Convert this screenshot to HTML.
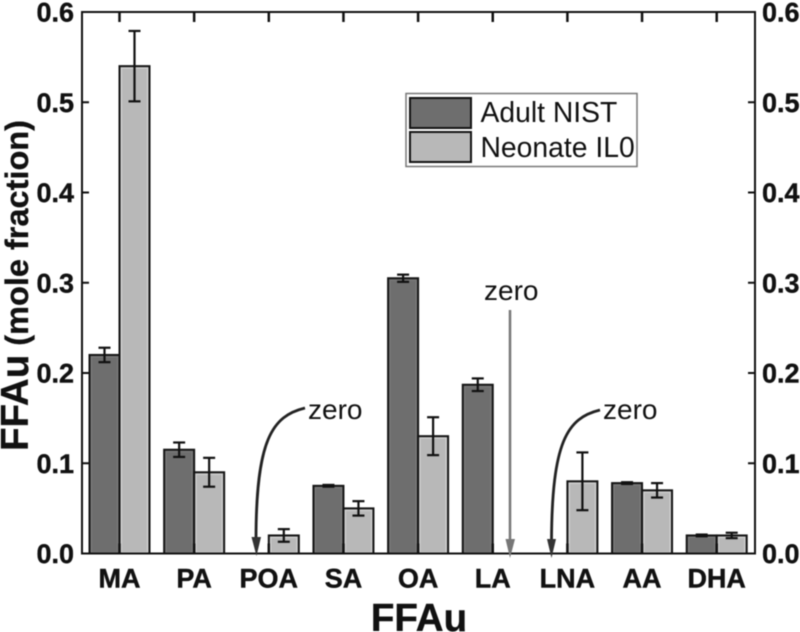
<!DOCTYPE html>
<html lang="en">
<head>
<meta charset="utf-8">
<title>FFAu mole fraction</title>
<style>
html,body{margin:0;padding:0;background:#fff;width:800px;height:632px;overflow:hidden}
svg{display:block;font-family:"Liberation Sans",sans-serif;filter:blur(0.45px)}
</style>
</head>
<body>
<svg id="chart" width="800" height="632" viewBox="0 0 800 632"></svg>
<script>
const categories = ['MA','PA','POA','SA','OA','LA','LNA','AA','DHA'];
const adultValues = [0.22,0.115,0,0.075,0.305,0.187,0,0.078,0.02];
const adultErrors = [0.008,0.008,0,0.001,0.004,0.007,0,0.001,0.001];
const neonateValues = [0.54,0.09,0.02,0.05,0.13,0,0.08,0.07,0.02];
const neonateErrors = [0.039,0.016,0.007,0.008,0.021,0,0.032,0.008,0.003];
const yTicks = [0,0.1,0.2,0.3,0.4,0.5,0.6];

const svg = document.getElementById('chart');
const NS = 'http://www.w3.org/2000/svg';
const plotLeft = 82, plotRight = 755, plotTop = 12, plotBottom = 553.5;
const yMax = 0.6, firstCenter = 119.5, step = 74.65, barWidth = 30;
function yScale(v){ return plotBottom - (v / yMax) * (plotBottom - plotTop); }
function xScale(i){ return firstCenter + i * step; }
function make(tag, attrs, parent){
  const el = document.createElementNS(NS, tag);
  for (const k in attrs) el.setAttribute(k, attrs[k]);
  (parent || svg).appendChild(el);
  return el;
}
function drawBar(value, x, fill, inner, group){
  if (value <= 0) return;
  const y = yScale(value);
  const r = make('rect', {x:x, y:y, width:barWidth, height:plotBottom-y, fill:fill, stroke:'#141414', 'stroke-width':2}, group);
  
  
  const h = make('rect', {x:x+2, y:y+2, width:barWidth-4, height:Math.max(0,plotBottom-y-3), fill:'none', stroke:inner, 'stroke-width':1}, group);
  
  
}
function drawError(value, err, cx, group){
  if (value <= 0 || err <= 0) return;
  const g = make('g', {stroke:'#111', 'stroke-width':2.2, fill:'none'}, group);
  
  
  const hi = yScale(value + err), lo = yScale(value - err);
  make('line', {x1:cx, x2:cx, y1:hi, y2:lo}, g);
  make('line', {x1:cx-6, x2:cx+6, y1:hi, y2:hi}, g);
  make('line', {x1:cx-6, x2:cx+6, y1:lo, y2:lo}, g);
}

categories.forEach(function(name, i){
  const group = make('g', {});
  
  
  const c = xScale(i);
  drawBar(adultValues[i], c - barWidth, '#6e6e6e', '#7c7c7c', group);
  drawBar(neonateValues[i], c, '#b8b8b8', '#d4d4d4', group);
  drawError(adultValues[i], adultErrors[i], c - barWidth/2, group);
  drawError(neonateValues[i], neonateErrors[i], c + barWidth/2, group);
});

const frame = make('rect', {x:plotLeft, y:plotTop, width:plotRight-plotLeft, height:plotBottom-plotTop, fill:'none', stroke:'#111', 'stroke-width':2});



yTicks.forEach(function(t){
  const y = yScale(t);
  if (t > 0 && t < yMax) {
    const a = make('line', {x1:plotLeft, x2:plotLeft+7, y1:y, y2:y, stroke:'#111', 'stroke-width':2});
    
    
    const b = make('line', {x1:plotRight-7, x2:plotRight, y1:y, y2:y, stroke:'#111', 'stroke-width':2});
    
    
  }
  const l = make('text', {x:74, y:y+9.5, 'text-anchor':'end', 'font-size':27, 'font-weight':'bold', fill:'#111', stroke:'#111', 'stroke-width':0.4});
  l.textContent = t.toFixed(1);
  
  
  const r = make('text', {x:762, y:y+9.5, 'font-size':27, 'font-weight':'bold', fill:'#111', stroke:'#111', 'stroke-width':0.4});
  r.textContent = t.toFixed(1);
  
  
});

categories.forEach(function(name, i){
  const c = xScale(i);
  const a = make('line', {x1:c, x2:c, y1:plotBottom-10, y2:plotBottom, stroke:'#111', 'stroke-width':2.5});
  
  
  const b = make('line', {x1:c, x2:c, y1:plotTop, y2:plotTop+10, stroke:'#111', 'stroke-width':2.5});
  
  
  const l = make('text', {x:c, y:587.5, 'text-anchor':'middle', 'font-size':27, 'font-weight':'bold', fill:'#111', stroke:'#111', 'stroke-width':0.4});
  l.textContent = name;
  
  
});
</script>
<script>
const overlay = document.getElementById('chart');
overlay.insertAdjacentHTML('beforeend', `
<text x="419" y="631" text-anchor="middle" font-size="38.5" font-weight="bold" fill="#111" stroke="#111" stroke-width="0.4">FFAu</text>
<text transform="translate(28,451) rotate(-90)" font-weight="bold" fill="#111" stroke="#111" stroke-width="0.3"><tspan font-size="38.5">FFAu</tspan><tspan font-size="32.5"> (mole fraction)</tspan></text>
<g>
  <rect x="406" y="93.5" width="231" height="73" fill="#fff" stroke="#777" stroke-width="1.5"/>
  <rect x="410" y="98" width="61" height="30" fill="#6e6e6e" stroke="#141414" stroke-width="2"/>
  <rect x="410" y="132" width="61" height="30" fill="#b8b8b8" stroke="#141414" stroke-width="2"/>
  <text x="480.5" y="122" font-size="28.3" fill="#111">Adult NIST</text>
  <text x="480.5" y="157" font-size="28.3" fill="#111">Neonate IL0</text>
</g>
<g>
  <text x="308" y="419" font-size="28" fill="#111">zero</text>
  <path d="M305 408 C272 416 256 440 256 540" fill="none" stroke="#222" stroke-width="2.8"/>
  <polygon points="251.5,537 261,537 256.5,556" fill="#333"/>
</g>
<g>
  <text x="484" y="300" font-size="28" fill="#111">zero</text>
  <line x1="510" y1="310" x2="510" y2="542" stroke="#777" stroke-width="2.5"/>
  <polygon points="505.5,539 515,539 510,558" fill="#777"/>
</g>
<g>
  <text x="603" y="419" font-size="28" fill="#111">zero</text>
  <path d="M600 410 C567 418 552 442 551.5 541" fill="none" stroke="#222" stroke-width="2.8"/>
  <polygon points="547,539 556,539 551.5,558" fill="#333"/>
</g>`);
</script>
</body>
</html>
